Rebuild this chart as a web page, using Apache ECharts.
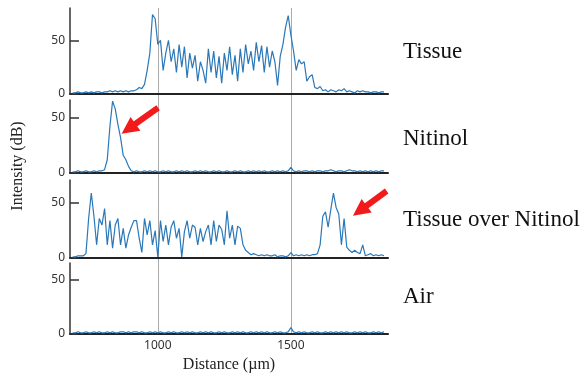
<!DOCTYPE html>
<html>
<head>
<meta charset="utf-8">
<script src="https://cdn.jsdelivr.net/npm/echarts@6/dist/echarts.min.js"></script>
<style>
  html, body { margin: 0; padding: 0; background: #fff; }
  #chart { width: 582px; height: 379px; }
</style>
</head>
<body>
<div id="chart"></div>
<script>
// sample positions along the A-line (µm)
const distance = [
  680, 690, 700, 710, 720, 730, 740, 750, 760, 770,
  780, 790, 800, 810, 820, 830, 840, 850, 860, 870,
  880, 890, 900, 910, 920, 930, 940, 950, 960, 970,
  980, 990, 1000, 1010, 1020, 1030, 1040, 1050, 1060, 1070,
  1080, 1090, 1100, 1110, 1120, 1130, 1140, 1150, 1160, 1170,
  1180, 1190, 1200, 1210, 1220, 1230, 1240, 1250, 1260, 1270,
  1280, 1290, 1300, 1310, 1320, 1330, 1340, 1350, 1360, 1370,
  1380, 1390, 1400, 1410, 1420, 1430, 1440, 1450, 1460, 1470,
  1480, 1490, 1500, 1510, 1520, 1530, 1540, 1550, 1560, 1570,
  1580, 1590, 1600, 1610, 1620, 1630, 1640, 1650, 1660, 1670,
  1680, 1690, 1700, 1710, 1720, 1730, 1740, 1750, 1760, 1770,
  1780, 1790, 1800, 1810, 1820, 1830, 1840, 1850
];

// intensity (dB)
const tissue = [
  1, 1, 2, 1, 1, 2, 1, 2, 1, 2,
  2, 1, 2, 2, 3, 2, 3, 2, 3, 2,
  3, 2, 3, 3, 4, 6, 5, 9, 22, 38,
  74, 70, 46, 50, 22, 38, 50, 30, 42, 20,
  46, 25, 44, 15, 38, 24, 36, 12, 30, 22,
  10, 42, 20, 40, 15, 35, 10, 38, 22, 44,
  18, 36, 12, 42, 20, 46, 28, 40, 22, 48,
  30, 45, 20, 44, 25, 40, 30, 8, 35, 46,
  62, 73, 55, 40, 22, 32, 28, 30, 12, 16,
  18, 6, 5, 7, 3, 4, 2, 4, 3, 2,
  4, 3, 5, 2, 3, 2, 1, 3, 2, 3,
  2, 2, 1, 2, 2, 1, 2, 2
];

const nitinol = [
  1, 1, 2, 1, 1, 2, 1, 1, 2, 1,
  2, 2, 3, 12, 42, 65, 58, 44, 32, 16,
  12, 6, 2, 1, 2, 1, 1, 2, 1, 2,
  1, 2, 1, 1, 2, 1, 2, 1, 1, 2,
  1, 2, 1, 2, 1, 1, 2, 1, 2, 1,
  2, 1, 1, 2, 1, 2, 1, 1, 2, 1,
  1, 2, 1, 2, 1, 1, 2, 1, 2, 1,
  2, 1, 2, 1, 1, 2, 1, 2, 1, 2,
  1, 2, 5, 2, 1, 2, 1, 2, 2, 1,
  2, 1, 2, 2, 1, 2, 2, 3, 2, 1,
  2, 2, 1, 2, 3, 2, 2, 1, 2, 1,
  2, 1, 2, 1, 2, 1, 2, 2
];

const tissueOverNitinol = [
  1, 1, 2, 2, 2, 4, 36, 59, 38, 12,
  36, 30, 45, 12, 34, 9, 30, 36, 12, 27,
  9, 21, 28, 34, 34, 18, 5, 36, 21, 34,
  12, 25, 1, 34, 15, 30, 12, 28, 34, 18,
  27, 1, 24, 34, 18, 30, 28, 12, 27, 15,
  24, 30, 12, 34, 15, 30, 26, 12, 43, 18,
  30, 12, 29, 27, 12, 7, 5, 3, 4, 3,
  2, 3, 2, 3, 2, 2, 3, 1, 2, 2,
  1, 2, 5, 2, 3, 2, 3, 2, 3, 2,
  3, 3, 4, 12, 38, 42, 28, 44, 59, 46,
  40, 12, 36, 10, 7, 5, 7, 5, 4, 12,
  2, 3, 4, 2, 3, 2, 3, 2
];

const air = [
  1, 1, 2, 1, 1, 2, 1, 1, 2, 1,
  2, 1, 1, 2, 1, 2, 1, 1, 2, 2,
  1, 2, 1, 2, 2, 1, 2, 1, 1, 2,
  1, 2, 1, 2, 1, 1, 2, 1, 2, 1,
  1, 2, 1, 2, 1, 2, 1, 1, 2, 1,
  2, 1, 2, 1, 1, 2, 1, 2, 1, 1,
  2, 1, 2, 1, 2, 1, 1, 2, 1, 2,
  1, 2, 1, 2, 1, 1, 2, 1, 2, 1,
  1, 2, 6, 2, 1, 2, 1, 2, 1, 1,
  2, 1, 2, 1, 1, 2, 1, 2, 1, 2,
  1, 2, 1, 2, 1, 1, 2, 1, 2, 1,
  2, 1, 1, 2, 1, 2, 1, 2
];

const panelNames = ["Tissue", "Nitinol", "Tissue over Nitinol", "Air"];
const panelValues = [tissue, nitinol, tissueOverNitinol, air];
const panelMax = [80, 66, 71, 65];
const yTickValues = [0, 50];
const xTickValues = [1000, 1500];
const xRange = [670, 1865];

// red arrows: [tail, head] in data coords, per panel
const arrows = {
  1: [[1001, 59], [890, 40]],
  2: [[1860, 61], [1759, 43]]
};

const panels = [
  { top: 8, height: 86, labelY: 52 },
  { top: 100, height: 73, labelY: 139 },
  { top: 180, height: 78, labelY: 220 },
  { top: 263, height: 71, labelY: 297 }
];

const LEFT = 70, RIGHT = 194;
const SANS = "Noto Sans";
const SERIF = "Liberation Serif";

const chart = echarts.init(document.getElementById("chart"), null, { renderer: "canvas" });

const grid = [{ left: LEFT, right: RIGHT, top: 8, bottom: 379 - 334 }];
const xAxis = [{
  gridIndex: 0, type: "value", min: xRange[0], max: xRange[1], z: 0,
  splitNumber: 2,
  axisLine: { show: false },
  axisTick: { show: false },
  axisLabel: {
    customValues: xTickValues, margin: 6, fontSize: 12, color: "#333", fontFamily: SANS,
    formatter: (v) => String(v)
  },
  splitLine: { show: true, showMinLine: false, showMaxLine: false, lineStyle: { color: "#aaa", width: 1 } },
  name: "Distance (\u00b5m)", nameLocation: "middle", nameGap: 22,
  nameTextStyle: { fontFamily: SERIF, fontSize: 16, color: "#222" }
}];
const yAxis = [{ gridIndex: 0, type: "value", min: 0, max: 1, show: false }];
const series = [];

panels.forEach((p, i) => {
  const gi = i + 1;
  grid.push({ left: LEFT, right: RIGHT, top: p.top, height: p.height });
  xAxis.push({
    gridIndex: gi, type: "value", min: xRange[0], max: xRange[1], z: 2,
    axisLine: { show: true, onZero: false, lineStyle: { color: "#222", width: 2 } },
    axisTick: { show: false }, axisLabel: { show: false }, splitLine: { show: false }
  });
  yAxis.push({
    gridIndex: gi, type: "value", min: 0, max: panelMax[i], interval: 50, z: 2,
    axisLine: { show: true, lineStyle: { color: "#333", width: 1.5 } },
    axisTick: { show: true, inside: true, length: 9, customValues: yTickValues, lineStyle: { color: "#333", width: 1.5 } },
    axisLabel: { customValues: yTickValues, margin: 5, fontSize: 12, color: "#333", fontFamily: SANS },
    splitLine: { show: true, showMinLine: false, showMaxLine: false, lineStyle: { color: "#aaa", width: 1 } }
  });
  const s = {
    type: "line",
    name: panelNames[i],
    xAxisIndex: gi, yAxisIndex: gi,
    data: distance.map((d, j) => [d, panelValues[i][j]]),
    showSymbol: false,
    clip: false,
    lineStyle: { color: "#2a78b8", width: 1.2 },
    z: 3,
    animation: false
  };
  if (arrows[i]) {
    const [tail, head] = arrows[i];
    s.markLine = {
      silent: true, animation: false,
      symbol: ["none", "triangle"], symbolSize: [17, 17],
      label: { show: false },
      lineStyle: { color: "#f21a1a", width: 6, type: "solid" },
      data: [[{ coord: tail }, { coord: head }]]
    };
  }
  series.push(s);
});

const graphic = [{
  type: "text", x: 18, y: 166, rotation: Math.PI / 2,
  style: { text: "Intensity (dB)", font: "16px " + SERIF, fill: "#222", textAlign: "center", textVerticalAlign: "middle" }
}].concat(panels.map((p, i) => ({
  type: "text", x: 403, y: p.labelY,
  style: { text: panelNames[i], font: "23px " + SERIF, fill: "#111", textAlign: "left", textVerticalAlign: "middle" }
})));

chart.setOption({
  animation: false,
  backgroundColor: "#fff",
  grid, xAxis, yAxis, series, graphic
});
</script>
</body>
</html>
